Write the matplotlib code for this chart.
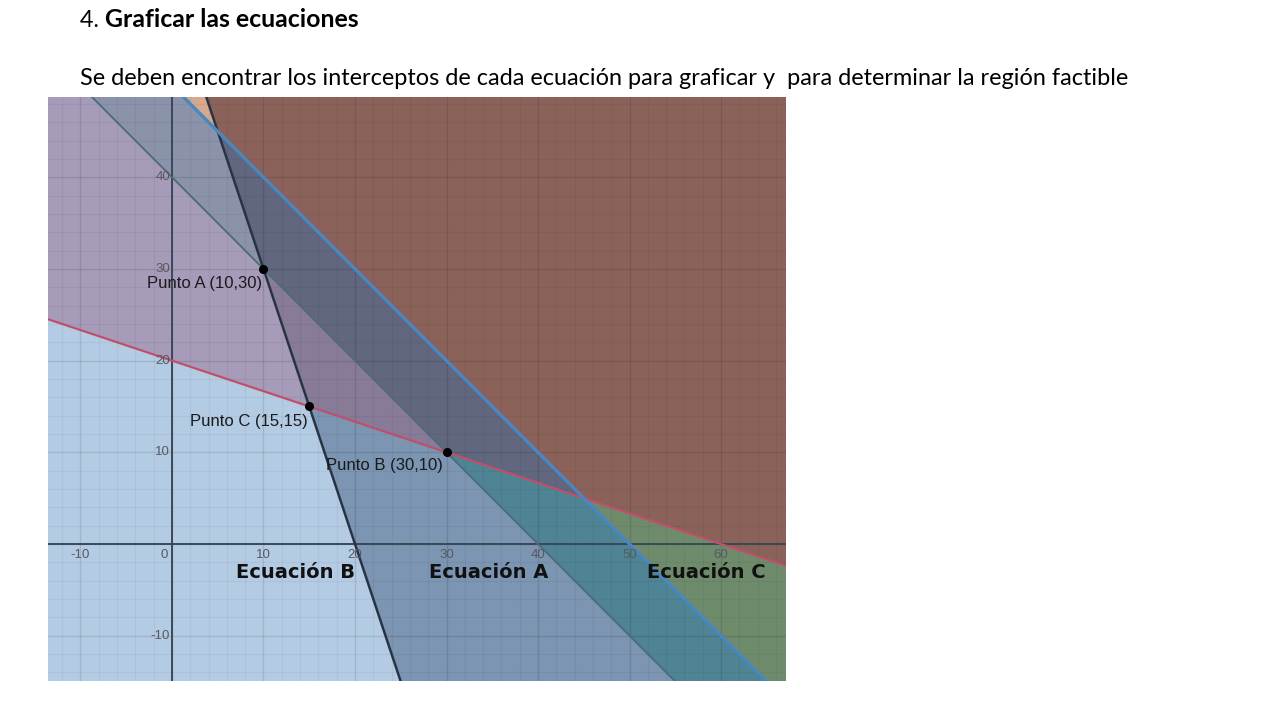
import matplotlib.pyplot as plt

# rectas: a*x + b*y = c
line_names = ["A", "B", "C", "D"]
line_a = [1, 3, 1, 1]
line_b = [1, 1, 3, 1]
line_c = [40, 60, 60, 50]
line_colors = ["#4d6a78", "#2a3344", "#c0506a", "#4b86c0"]
line_widths = [1.3, 1.8, 1.6, 2.4]

# regiones: signo de (a*x + b*y - c) para cada recta, y su color
region_signs = [
    {"B": -1, "C": -1},
    {"B": -1, "C": 1, "A": -1},
    {"B": -1, "C": 1, "A": 1, "D": -1},
    {"B": -1, "C": 1, "D": 1},
    {"B": 1, "C": 1, "A": -1},
    {"B": 1, "C": 1, "A": 1, "D": -1},
    {"B": 1, "C": 1, "D": 1},
    {"B": 1, "C": -1, "A": -1},
    {"C": -1, "A": 1, "D": -1},
    {"C": -1, "D": 1},
]
region_colors = ["#b4cbe4", "#a69bb9", "#8a93a9", "#d6a88f", "#877b98",
                 "#60677f", "#8a6259", "#7b95b2", "#4f8494", "#6e8b6c"]

point_x = [10, 30, 15]
point_y = [30, 10, 15]
point_labels = ["Punto A (10,30)", "Punto B (30,10)", "Punto C (15,15)"]
label_x = [-2.7, 16.8, 2]
label_y = [28.4, 8.6, 13.4]

eq_labels = ["Ecuación B", "Ecuación A", "Ecuación C"]
eq_x = [13.5, 34.6, 58.4]

x_ticks = [-10, 0, 10, 20, 30, 40, 50, 60]
y_ticks = [-10, 10, 20, 30, 40]

XMIN, XMAX, YMIN, YMAX = -13.55, 67.1, -14.94, 48.75


def clip(poly, a, b, c, s):
    out = []
    n = len(poly)
    for i in range(n):
        p, q = poly[i], poly[(i + 1) % n]
        fp = s * (a * p[0] + b * p[1] - c)
        fq = s * (a * q[0] + b * q[1] - c)
        if fp >= 0:
            out.append(p)
        if fp * fq < 0:
            t = fp / (fp - fq)
            out.append((p[0] + t * (q[0] - p[0]), p[1] + t * (q[1] - p[1])))
    return out


plt.rcParams['font.family'] = ['Lato', 'DejaVu Sans']
fig = plt.figure(figsize=(12.8, 7.2), dpi=100)
fig.text(80 / 1280, 1 - 27 / 720, "4. ", fontsize=16.8, va="baseline", ha="left")
fig.text(105 / 1280, 1 - 27 / 720, "Graficar las ecuaciones", fontsize=17.9,
         fontweight="bold", va="baseline", ha="left")
fig.text(80 / 1280, 1 - 85 / 720,
         "Se deben encontrar los interceptos de cada ecuación para graficar y  para determinar la región factible",
         fontsize=16.9, va="baseline", ha="left")

ax = fig.add_axes([48 / 1280, 39 / 720, 738 / 1280, 584 / 720])
ax.set_xlim(XMIN, XMAX)
ax.set_ylim(YMIN, YMAX)
ax.axis("off")

box = [(XMIN, YMIN), (XMAX, YMIN), (XMAX, YMAX), (XMIN, YMAX)]
for signs, col in zip(region_signs, region_colors):
    poly = box
    for name, s in signs.items():
        k = line_names.index(name)
        poly = clip(poly, line_a[k], line_b[k], line_c[k], s)
    if poly:
        xs, ys = zip(*poly)
        ax.fill(xs, ys, color=col, lw=0, zorder=1)

# rejilla
for v in range(-14, 68, 2):
    major = v % 10 == 0
    ax.axvline(v, color="k", alpha=0.11 if major else 0.045, lw=1.0 if major else 0.8, zorder=2)
for v in range(-14, 50, 2):
    major = v % 10 == 0
    ax.axhline(v, color="k", alpha=0.11 if major else 0.045, lw=1.0 if major else 0.8, zorder=2)
ax.axhline(0, color="#3a4858", lw=1.4, zorder=3)
ax.axvline(0, color="#3a4858", lw=1.4, zorder=3)

for t in x_ticks:
    ax.text(t if t != 0 else -0.8, -0.5, str(t), fontsize=9.5, color="#555a60",
            ha="center", va="top", family="Liberation Sans", zorder=6)
for t in y_ticks:
    ax.text(-0.2, t, str(t), fontsize=9.5, color="#555a60",
            ha="right", va="center", family="Liberation Sans", zorder=6)

xs = [XMIN, XMAX]
for k in range(len(line_names)):
    ys = [(line_c[k] - line_a[k] * x) / line_b[k] for x in xs]
    ax.plot(xs, ys, color=line_colors[k], lw=line_widths[k], zorder=4)

ax.plot(point_x, point_y, "o", color="black", ms=5.5, zorder=7)
for t, lx, ly in zip(point_labels, label_x, label_y):
    ax.text(lx, ly, t, fontsize=12, color="#1a1a1a", ha="left", va="center",
            family="Liberation Sans", zorder=7)
for t, ex in zip(eq_labels, eq_x):
    ax.text(ex, -3.1, t, fontsize=14, fontweight="bold", color="#111111",
            ha="center", va="center", family="DejaVu Sans", zorder=7)

fig.savefig("out.png", dpi=100, facecolor="white")
